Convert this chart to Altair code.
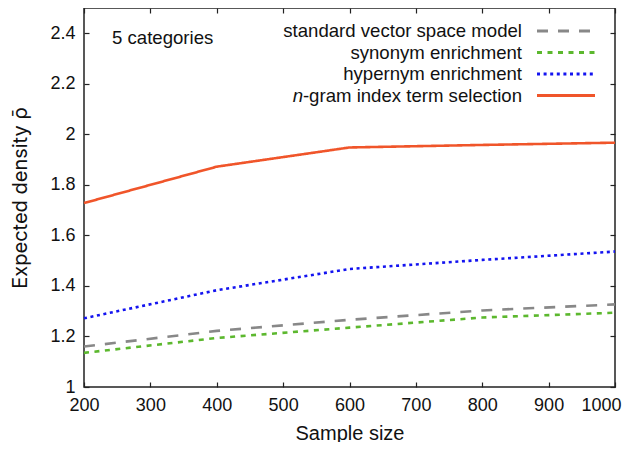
import altair as alt
import pandas as pd

# ---- data ----
sample_sizes = [200, 400, 600, 800, 1000]
series_names = [
    "standard vector space model",
    "synonym enrichment",
    "hypernym enrichment",
    "n-gram index term selection",
]
standard_vsm = [1.160, 1.222, 1.266, 1.303, 1.327]
synonym_enr = [1.135, 1.194, 1.235, 1.275, 1.294]
hypernym_enr = [1.272, 1.383, 1.467, 1.503, 1.536]
ngram_sel = [1.728, 1.872, 1.948, 1.958, 1.967]

legend_labels = [
    "standard vector space model",
    "synonym enrichment",
    "hypernym enrichment",
    "-gram index term selection",
]
x_ticks = [200, 300, 400, 500, 600, 700, 800, 900, 1000]
y_ticks = [1, 1.2, 1.4, 1.6, 1.8, 2, 2.2, 2.4]

colors = ["#888888", "#5cb82e", "#1414f0", "#f0552a"]
dashes = [[11, 10], [5, 5.5], [3, 3.6], [1, 0]]

W, H = 531, 379
FONT = "Liberation Sans"

rows = []
for name, vals in zip(series_names, [standard_vsm, synonym_enr, hypernym_enr, ngram_sel]):
    for s, v in zip(sample_sizes, vals):
        rows.append({"series": name, "size": s, "rho": v})
df = pd.DataFrame(rows)

leg_df = pd.DataFrame({"series": series_names, "label": legend_labels})

color_enc = alt.Color("series:N", scale=alt.Scale(domain=series_names, range=colors), legend=None)
dash_enc = alt.StrokeDash("series:N", scale=alt.Scale(domain=series_names, range=dashes), legend=None)

xscale = alt.Scale(domain=[200, 1000], nice=False, zero=False)
yscale = alt.Scale(domain=[1, 2.5], nice=False, zero=False)

tick_common = dict(labels=False, domain=False, grid=False, title=None, ticks=True,
                   tickSize=5, tickColor="#222222", tickWidth=1.2)

lines = alt.Chart(df).mark_line(strokeWidth=2.6).encode(
    x=alt.X("size:Q", scale=xscale,
            axis=alt.Axis(values=x_ticks, format="d", title="Sample size", grid=False,
                          domain=False, ticks=False, tickSize=0, labelPadding=9,
                          labelFlush=False, labelOverlap=False, titlePadding=9,
                          labelAlign=alt.expr("datum.value >= 1000 ? 'right' : 'center'"),
                          labelOffset=alt.expr("datum.value >= 1000 ? 6 : 0"))),
    y=alt.Y("rho:Q", scale=yscale,
            axis=alt.Axis(values=y_ticks, format="~g", title="Expected density \u03c1\u0304",
                          titleFont="Inter", grid=False, domain=False, ticks=False, tickSize=0,
                          labelFlush=False, labelOverlap=False,
                          labelPadding=9, titlePadding=19)),
    color=color_enc,
    strokeDash=dash_enc,
    order="size:Q",
)

# inward ticks at bottom and left edges
ticks_bl = alt.Chart(df).mark_line(opacity=0).encode(
    x=alt.X("size:Q", scale=xscale,
            axis=alt.Axis(orient="top", offset=-H, values=x_ticks, **tick_common)),
    y=alt.Y("rho:Q", scale=yscale,
            axis=alt.Axis(orient="right", offset=-W, values=y_ticks, **tick_common)),
    detail="series:N",
)
# inward ticks at top and right edges
ticks_tr = alt.Chart(df).mark_line(opacity=0).encode(
    x=alt.X("size:Q", scale=xscale,
            axis=alt.Axis(orient="bottom", offset=-H, values=x_ticks, **tick_common)),
    y=alt.Y("rho:Q", scale=yscale,
            axis=alt.Axis(orient="left", offset=-W, values=y_ticks, **tick_common)),
    detail="series:N",
)

leg_y = alt.Y("series:N", sort=series_names,
              scale=alt.Scale(type="point", domain=series_names, range=[23, 87.5], padding=0),
              axis=None)

leg_text = alt.Chart(leg_df).mark_text(align="right", baseline="middle", fontSize=18.6,
                                       font=FONT, color="#111111").encode(
    x=alt.value(438), y=leg_y, text="label:N")

leg_n = alt.Chart(leg_df).transform_filter(
    alt.datum.series == series_names[3]
).mark_text(align="right", baseline="middle", fontSize=18.6, font=FONT,
            fontStyle="italic", color="#111111").encode(
    x=alt.value(219), y=leg_y, text=alt.value("n"))

leg_swatch = alt.Chart(leg_df).mark_rule(strokeWidth=3).encode(
    x=alt.value(453), x2=alt.value(511), y=leg_y,
    color=color_enc, strokeDash=dash_enc)

note = alt.Chart(pd.DataFrame({"t": ["5 categories"]})).mark_text(
    align="left", baseline="middle", fontSize=18.6, font=FONT, color="#111111").encode(
    x=alt.value(28), y=alt.value(30), text="t:N")

chart = alt.layer(lines, ticks_bl, ticks_tr, leg_swatch, leg_text, leg_n, note).resolve_scale(
    x="independent", y="independent"
).properties(
    width=W, height=H,
    autosize=alt.AutoSizeParams(type="none"),
    padding={"left": 76, "top": 0, "right": 7, "bottom": 55},
).configure_view(
    stroke="#222222", strokeWidth=1.5
).configure_axis(
    labelFont=FONT, titleFont=FONT, labelFontSize=18, titleFontSize=20,
    labelColor="#111111", titleColor="#111111", titleFontWeight="normal",
)

chart.save("out.html", embed_options={"renderer": "svg", "actions": False})
